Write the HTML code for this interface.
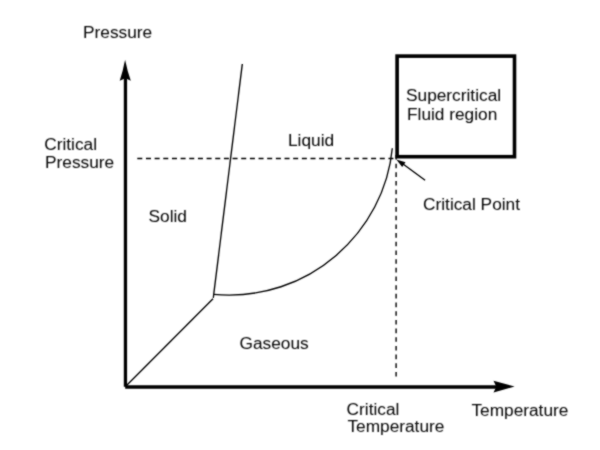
<!DOCTYPE html>
<html><head><meta charset="utf-8">
<style>
html,body{margin:0;padding:0;background:#fff;width:600px;height:450px;overflow:hidden}
svg{display:block}
text{font-family:"Liberation Sans",sans-serif;font-size:17.3px;fill:#000}
</style></head><body>
<svg width="600" height="450" viewBox="0 0 600 450">
<defs><filter id="bl" x="0" y="0" width="600" height="450" filterUnits="userSpaceOnUse"><feConvolveMatrix order="3" kernelMatrix="1 2 1 2 12 2 1 2 1" divisor="24" edgeMode="duplicate"/></filter><filter id="bt" x="0" y="0" width="600" height="450" filterUnits="userSpaceOnUse"><feConvolveMatrix order="3" kernelMatrix="1 2 1 2 8 2 1 2 1" divisor="20" edgeMode="duplicate"/></filter></defs>
<rect width="600" height="450" fill="#fff"/>
<g filter="url(#bl)">
<!-- axes -->
<line x1="125.45" y1="386.8" x2="125.45" y2="76" stroke="#000" stroke-width="3.3"/>
<path d="M125.1,59.8 Q127.3,71 130.8,80.7 L125.4,78.3 L119.7,80.7 Q123,71 125.1,59.8 Z" fill="#000"/>
<line x1="125.2" y1="386.9" x2="497" y2="386.9" stroke="#000" stroke-width="3.5"/>
<polygon points="514.6,386.6 493.5,392.5 496.3,386.7 493.5,380.8" fill="#000"/>
<!-- phase lines -->
<g stroke="#000" stroke-width="1.35" fill="none">
<line x1="125.5" y1="386.5" x2="213" y2="298.8"/>
<line x1="213.3" y1="297.8" x2="242.3" y2="64"/>
<path d="M213.5,294.4 C309.69,303 384.73,230.52 392.3,148.3"/>
</g>
<!-- dashed -->
<line x1="137.3" y1="158.4" x2="395" y2="158.4" stroke="#000" stroke-width="1.45" stroke-dasharray="5 3.66"/>
<line x1="396.1" y1="154.97" x2="396.1" y2="378" stroke="#000" stroke-width="1.4" stroke-dasharray="4.6 4.08"/>
<!-- box -->
<rect x="397.1" y="56.1" width="117.4" height="100.6" fill="none" stroke="#000" stroke-width="3.6"/>
<!-- pointer -->
<line x1="425.1" y1="180.2" x2="401" y2="162.5" stroke="#000" stroke-width="1.4"/>
<polygon points="396.3,159.4 405.5,162.2 402.2,166.9" fill="#000"/>
</g>
<g filter="url(#bt)">
<!-- labels -->
<text x="83" y="38">Pressure</text>
<text x="44.2" y="150.1">Critical</text>
<text x="45" y="167.7">Pressure</text>
<text x="288" y="146">Liquid</text>
<text x="148.5" y="221.5">Solid</text>
<text x="239.5" y="349">Gaseous</text>
<text x="406" y="101">Supercritical</text>
<text x="407" y="119.5">Fluid region</text>
<text x="423" y="210">Critical Point</text>
<text x="346.6" y="415">Critical</text>
<text x="347.4" y="432.4">Temperature</text>
<text x="471.4" y="416">Temperature</text>
</g>
</svg>
</body></html>
